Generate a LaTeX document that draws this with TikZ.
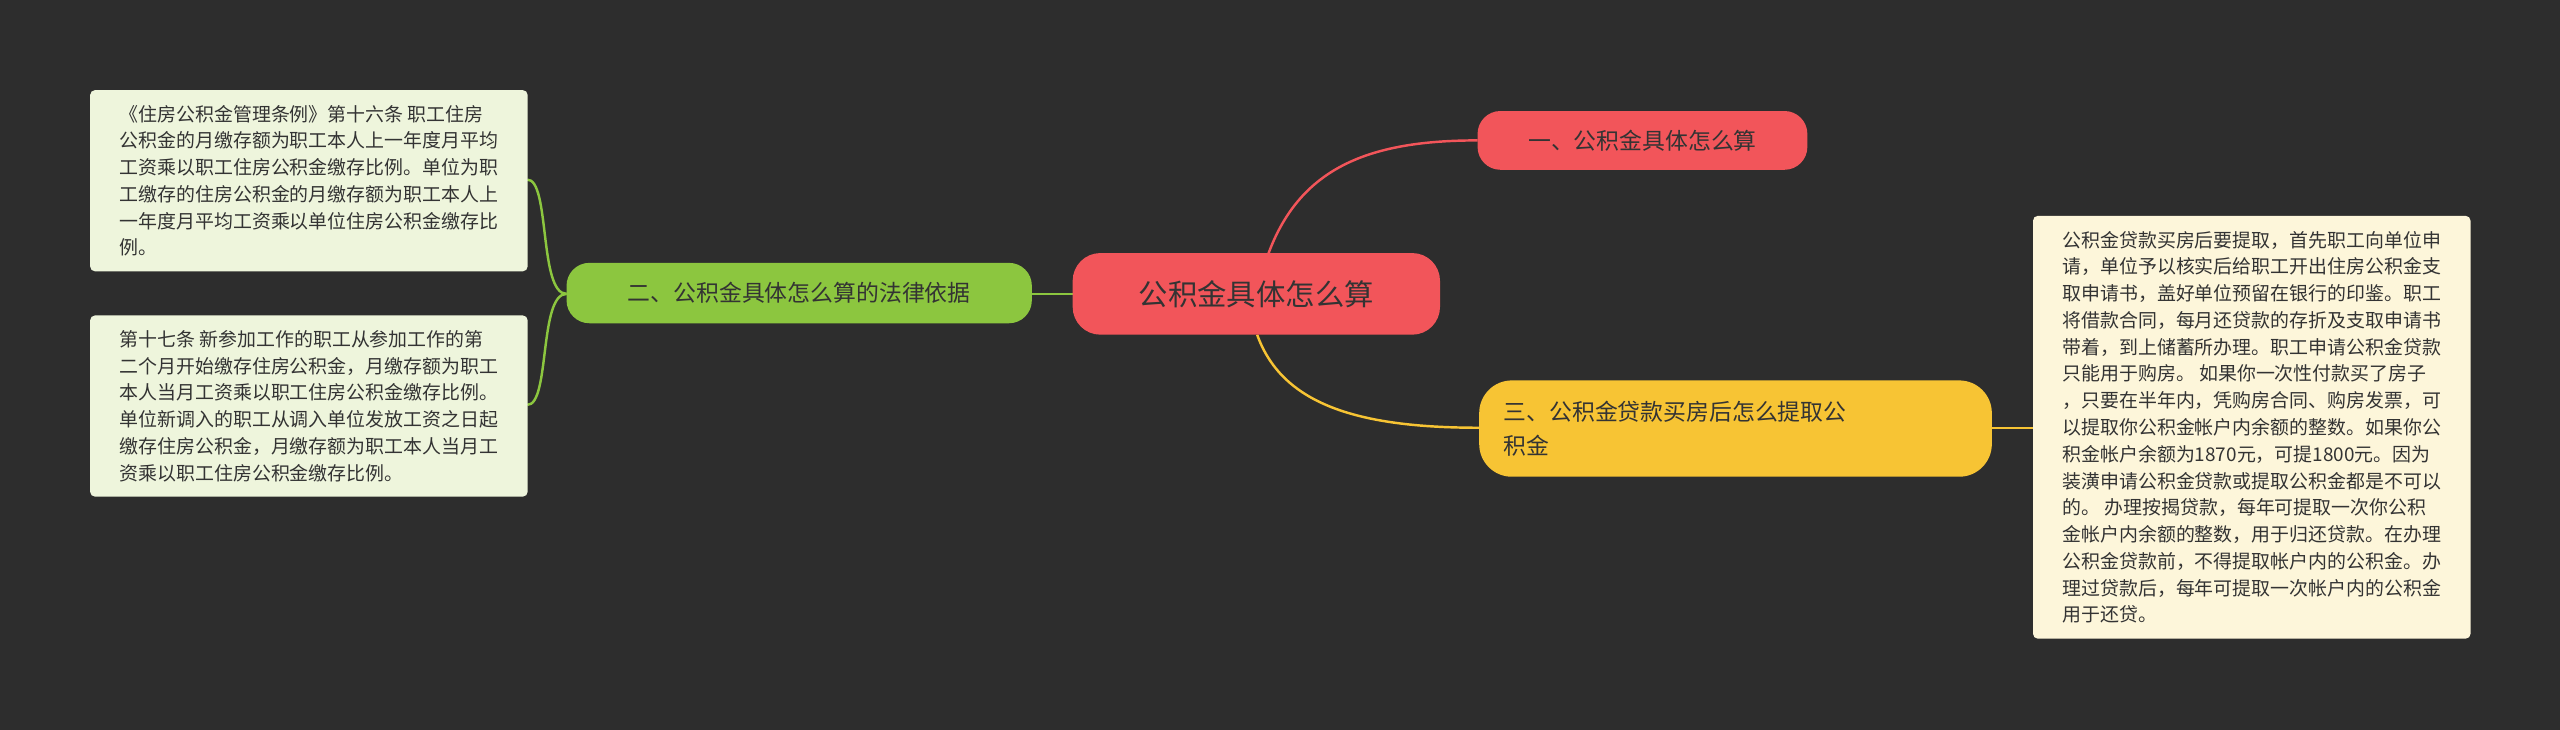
\documentclass[tikz,border=0pt]{standalone}
\usepackage{fontspec}
\setmainfont{Noto Sans CJK SC}
\definecolor{bg}{HTML}{2D2D2D}
\definecolor{cred}{HTML}{F2555A}
\definecolor{cgreen}{HTML}{8CC63F}
\definecolor{cyel}{HTML}{F7C434}
\definecolor{ngreen}{HTML}{EEF5DC}
\definecolor{nyel}{HTML}{FDF6DA}
\definecolor{txt}{HTML}{333333}
\begin{document}
\begin{tikzpicture}[x=1pt,y=1pt,
  topic/.style={rounded corners=17pt,text=txt,inner sep=0pt,align=left},
  note/.style={rounded corners=3pt,text=txt,align=left,font=\fontsize{11.6}{16.4}\selectfont,inner xsep=6pt,inner ysep=5pt,anchor=north west}]
\fill[bg] (0,0) rectangle (1568,447);
\useasboundingbox (0,0) rectangle (1568,447);
% connectors
\draw[cred,line width=1.5pt] (770,267) .. controls (785,340) and (830,361) .. (905,361);
\draw[cyel,line width=1.5pt] (770,242) .. controls (785,200) and (830,185) .. (906,185);
\draw[cgreen,line width=1.5pt] (632,267) -- (657,267);
\draw[cgreen,line width=1.5pt] (347,267) .. controls (330,267) and (337,337) .. (323,337);
\draw[cgreen,line width=1.5pt] (347,267) .. controls (330,267) and (337,199) .. (323,199);
\draw[cyel,line width=1.5pt] (1220,185) -- (1245,185);
% nodes
\node[topic,fill=cred,minimum width=225pt,minimum height=50pt,font=\fontsize{18}{22}\selectfont,align=center] (c) at (769.5,267) {公积金具体怎么算};
\node[topic,fill=cred,minimum width=202pt,minimum height=36pt,font=\fontsize{14}{18}\selectfont,align=center,rounded corners=14pt] (a) at (1006,361) {一、公积金具体怎么算};
\node[topic,fill=cgreen,minimum width=285pt,minimum height=37pt,font=\fontsize{14}{18}\selectfont,align=center,rounded corners=14pt] (b) at (489.5,267.5) {二、公积金具体怎么算的法律依据};
\node[topic,fill=cyel,minimum width=314pt,minimum height=59pt,font=\fontsize{14}{21}\selectfont,text width=284pt,rounded corners=20pt] (d) at (1063,184.5) {三、公积金贷款买房后怎么提取公\\积金};
\node[note,fill=ngreen,minimum width=268pt,minimum height=111pt] (n1) at (55,392) {《住房公积金管理条例》第十六条 职工住房\\公积金的月缴存额为职工本人上一年度月平均\\工资乘以职工住房公积金缴存比例。单位为职\\工缴存的住房公积金的月缴存额为职工本人上\\一年度月平均工资乘以单位住房公积金缴存比\\例。};
\node[note,fill=ngreen,minimum width=268pt,minimum height=111pt] (n2) at (55,254) {第十七条 新参加工作的职工从参加工作的第\\二个月开始缴存住房公积金，月缴存额为职工\\本人当月工资乘以职工住房公积金缴存比例。\\单位新调入的职工从调入单位发放工资之日起\\缴存住房公积金，月缴存额为职工本人当月工\\资乘以职工住房公积金缴存比例。};
\node[note,fill=nyel,minimum width=268pt,minimum height=259pt] (n3) at (1245,315) {公积金贷款买房后要提取，首先职工向单位申\\请，单位予以核实后给职工开出住房公积金支\\取申请书，盖好单位预留在银行的印鉴。职工\\将借款合同，每月还贷款的存折及支取申请书\\带着，到上储蓄所办理。职工申请公积金贷款\\只能用于购房。 如果你一次性付款买了房子\\，只要在半年内，凭购房合同、购房发票，可\\以提取你公积金帐户内余额的整数。如果你公\\积金帐户余额为1870元，可提1800元。因为\\装潢申请公积金贷款或提取公积金都是不可以\\的。 办理按揭贷款，每年可提取一次你公积\\金帐户内余额的整数，用于归还贷款。在办理\\公积金贷款前，不得提取帐户内的公积金。办\\理过贷款后，每年可提取一次帐户内的公积金\\用于还贷。};
\end{tikzpicture}
\end{document}
